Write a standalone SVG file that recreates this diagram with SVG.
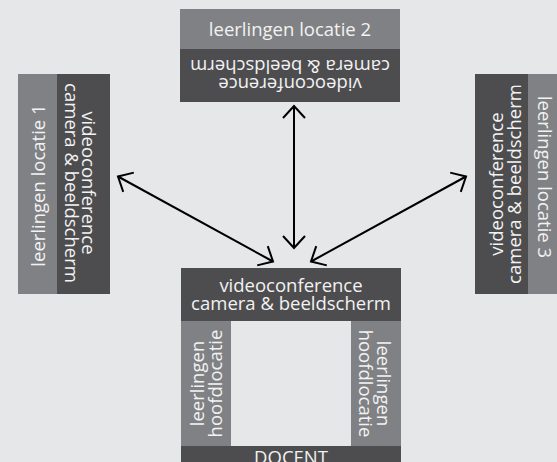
<svg xmlns="http://www.w3.org/2000/svg" width="557" height="462" viewBox="0 0 557 462">
<defs>
<style>
.bg{fill:#e6e7e8}
.dark{fill:#4d4d4f}
.light{fill:#808184}
.inner{fill:#e6e7e8}
text{font-family:"Open Sans","Noto Sans","DejaVu Sans",sans-serif;font-size:18.5px;fill:#f2f2f2;text-anchor:middle}
.conn{stroke:#000;stroke-width:2;fill:none}
</style>
<marker id="arr" viewBox="-1 -1 16 26" refX="12" refY="11" markerWidth="16" markerHeight="26" markerUnits="userSpaceOnUse" orient="auto-start-reverse">
<path d="M0,0 L12,11 L0,22" fill="none" stroke="#000" stroke-width="2"/>
</marker>
</defs>
<rect class="bg" x="0" y="0" width="557" height="462"/>

<g id="locatie2">
<rect class="light" x="180" y="9" width="220" height="40"/>
<rect class="dark" x="180" y="49" width="220" height="53"/>
<text x="290" y="36">leerlingen locatie 2</text>
<g transform="translate(290,0) rotate(180)">
<text x="0" y="-78">videoconference</text>
<text x="0" y="-60">camera &amp; beeldscherm</text>
</g>
</g>

<g id="locatie1">
<rect class="light" x="18" y="74" width="39" height="220"/>
<rect class="dark" x="57" y="74" width="53" height="220"/>
<text transform="translate(44.5,185.5) rotate(-90)" x="0" y="0">leerlingen locatie 1</text>
<g transform="translate(82,183) rotate(90)">
<text x="0" y="0">videoconference</text>
<text x="0" y="17.5">camera &amp; beeldscherm</text>
</g>
</g>

<g id="locatie3">
<rect class="dark" x="475" y="74" width="53" height="220"/>
<rect class="light" x="528" y="74" width="39" height="220"/>
<g transform="translate(503,184) rotate(-90)">
<text x="0" y="0">videoconference</text>
<text x="0" y="18">camera &amp; beeldscherm</text>
</g>
<text transform="translate(538,177) rotate(90)" x="0" y="0">leerlingen locatie 3</text>
</g>

<g id="hoofdlocatie">
<rect class="dark" x="181" y="268" width="220" height="53"/>
<rect class="light" x="181" y="321" width="50" height="125"/>
<rect class="inner" x="231" y="321" width="120" height="125"/>
<rect class="light" x="351" y="321" width="50" height="125"/>
<rect class="dark" x="181" y="446" width="220" height="16"/>
<text x="291" y="292">videoconference</text>
<text x="291" y="310">camera &amp; beeldscherm</text>
<g transform="translate(204,383.5) rotate(-90)">
<text x="0" y="0">leerlingen</text>
<text x="0" y="18">hoofdlocatie</text>
</g>
<g transform="translate(377,383.5) rotate(90)">
<text x="0" y="0">leerlingen</text>
<text x="0" y="18">hoofdlocatie</text>
</g>
<text x="291" y="464">DOCENT</text>
</g>

<g id="connectors">
<line class="conn" x1="294" y1="106" x2="294" y2="248" marker-start="url(#arr)" marker-end="url(#arr)"/>
<line class="conn" x1="118" y1="176.5" x2="273" y2="261.5" marker-start="url(#arr)" marker-end="url(#arr)"/>
<line class="conn" x1="466" y1="176.5" x2="311" y2="261.5" marker-start="url(#arr)" marker-end="url(#arr)"/>
</g>
</svg>
